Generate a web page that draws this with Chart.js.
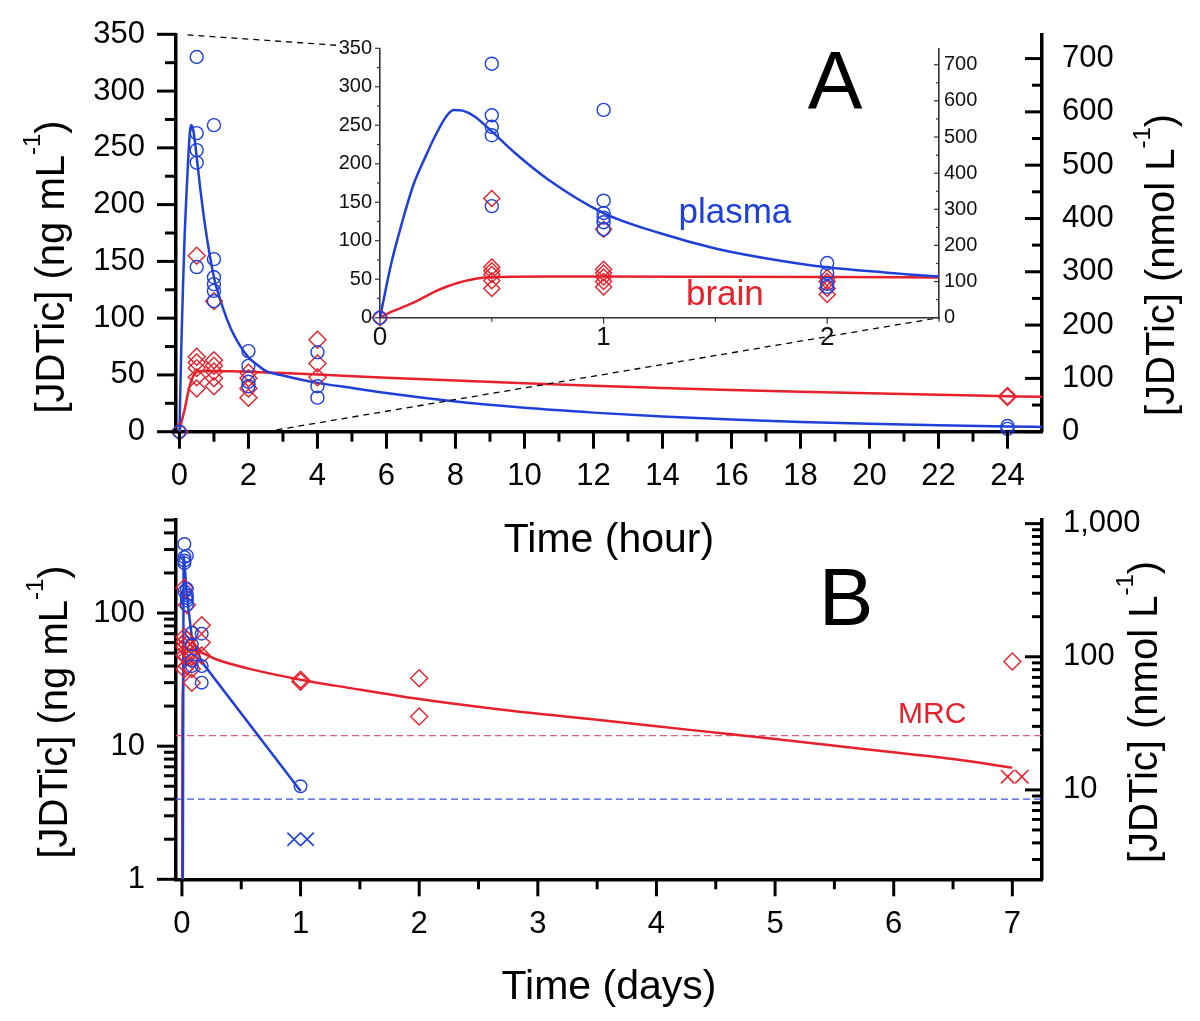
<!DOCTYPE html>
<html>
<head>
<meta charset="utf-8">
<script src="https://cdn.jsdelivr.net/npm/chart.js@4.4.1/dist/chart.umd.min.js"></script>
<style>
html,body{margin:0;padding:0;background:#fff;}
#wrap{position:relative;width:1200px;height:1021px;overflow:hidden;background:#fff;}
#wrap canvas{position:absolute;}
</style>
</head>
<body>
<div id="wrap">
<canvas id="cA" width="1200" height="580" style="left:0;top:0;width:1200px;height:580px"></canvas>
<canvas id="cB" width="1200" height="541" style="left:0;top:480px;width:1200px;height:541px"></canvas>
<canvas id="cI" width="680" height="330" style="left:330px;top:30px;width:680px;height:330px"></canvas>
</div>
<script>
// ---------------- DATA ----------------
const NMOL_PER_NG = 2.13;          // ng/mL -> nmol/L conversion used for the right axes
const MRC = 12;                    // ng/mL, red dashed line (panel B)
const LLOQ = 4;                    // ng/mL, blue dashed line (panel B)

// Panel A (hours) observations
const sampleHours = [0, 0.5, 1, 2, 4, 24];
const plasmaObs = [[0], [330, 263, 248, 237, 145], [270, 152, 136, 130, 124, 115], [71, 58, 44, 40], [70, 40, 30], [5, 2.5]];
const brainObs  = [[0], [155, 66, 61, 56, 48, 38], [115, 63, 58, 53, 47, 40], [52, 47, 38, 30], [81, 60, 48], [31.5, 30.5]];

// Panel A fitted curves (hours)
const fitHoursPlasma = [0, 0.05, 0.1, 0.15, 0.2, 0.25, 0.3, 0.33, 0.37, 0.42, 0.5, 0.6, 0.75, 1, 1.25, 1.5, 1.75, 2, 2.25, 2.5, 3, 3.5, 4, 5, 6, 8, 10, 12, 14, 16, 18, 20, 22, 24, 25];
const fitPlasma      = [0, 70, 125, 173, 207, 238, 263, 270, 269, 262, 242, 215, 180, 136, 110, 90, 76, 65.5, 59, 53.5, 49.5, 46, 43, 38.5, 34, 26.5, 21, 16.8, 13.4, 10.7, 8.6, 6.9, 5.6, 4.6, 4.2];
const fitHoursBrain  = [0, 0.05, 0.1, 0.15, 0.2, 0.25, 0.3, 0.35, 0.4, 0.45, 0.5, 0.6, 0.75, 1, 1.5, 2, 2.5, 3, 4, 6, 8, 10, 12, 14, 16, 18, 20, 22, 24, 25];
const fitBrain       = [0, 7.5, 13.5, 19.5, 27, 34.5, 40.5, 45.5, 49, 51.5, 52.5, 53.2, 53.5, 53.5, 53.2, 52.8, 52.2, 51.6, 50.3, 47.6, 45.1, 42.7, 40.5, 38.5, 36.8, 35.2, 33.8, 32.5, 31.3, 30.7];

// Panel B (days) observations
const sampleDays = [0.0208, 0.0417, 0.0833, 0.1667, 1, 2, 7];
const plasmaObsB = [[330, 263, 248, 237, 145], [270, 152, 136, 130, 124, 115], [71, 58, 44, 40], [70, 40, 30], [5], [], []];
const brainObsB  = [[155, 66, 61, 56, 48, 38], [115, 63, 58, 53, 47, 40], [52, 47, 38, 30], [81, 60, 48], [31.5, 30.5], [32.4, 16.7], [43.3]];
const plasmaBlqDays = [0.945, 1.055];
const plasmaBlqVals = [2, 2];
const brainBlqDays  = [6.96, 7.08];
const brainBlqVals  = [5.9, 5.9];

// Panel B fitted curves (days); first value ~0 (below the log axis)
const fitDaysPlasma = [0, 0.0139, 0.0208, 0.0417, 0.0833, 0.1667, 1];
const fitPlasmaB    = [0.001, 270, 242, 136, 65.5, 43, 4.6];
const fitDaysBrain  = [0, 0.004, 0.008, 0.0125, 0.0167, 0.0208, 0.042, 0.083, 0.167, 0.3, 0.58, 1, 1.42, 2, 2.7, 3.5, 4.3, 5, 5.8, 6.5, 7];
const fitBrainB     = [0.001, 13.5, 27, 40.5, 49, 52.5, 53.5, 52.8, 50.3, 44.6, 37.9, 31.6, 27.3, 22.6, 18.8, 15.8, 13.2, 11.3, 9.4, 8.0, 6.9];

// Tick labels
const A_xTicks = [0, 2, 4, 6, 8, 10, 12, 14, 16, 18, 20, 22, 24];
const A_yTicks = [0, 50, 100, 150, 200, 250, 300, 350];
const A_y2Ticks = [0, 100, 200, 300, 400, 500, 600, 700];
const I_xTicks = [0, 1, 2];
const I_yTicks = [0, 50, 100, 150, 200, 250, 300, 350];
const I_y2Ticks = [0, 100, 200, 300, 400, 500, 600, 700];
const B_xTicks = [0, 1, 2, 3, 4, 5, 6, 7];
const B_yTicks = [1, 10, 100];
const B_y2Ticks = [10, 100, 1000];

// ---------------- HELPERS ----------------
const BLUE = '#1f40d8';
const RED = '#e6212b';
const FONT = '"Liberation Sans", Arial, Helvetica, sans-serif';
Chart.defaults.font.family = FONT;
Chart.defaults.color = '#000';

function obsPoints(times, groups){ const p=[]; times.forEach((t,i)=>groups[i].forEach(v=>p.push({x:t,y:v}))); return p; }
function zipPts(ts, vs){ return ts.map((t,i)=>({x:t,y:vs[i]})); }
function range(a,b,s){ const r=[]; for(let v=a; v<=b+1e-9; v+=s) r.push(+v.toFixed(6)); return r; }
function logMinors(lo, hi){ const r=[]; for(let d=-2; d<=4; d++){ for(let m=2;m<=9;m++){ const v=m*Math.pow(10,d); if(v>=lo-1e-9 && v<=hi+1e-9) r.push(v);} } return r; }

function tickPlugin(id, specs){
  return { id, afterDraw(chart){
    const ctx=chart.ctx, ca=chart.chartArea;
    ctx.save();
    specs.forEach(s=>{
      const sc=chart.scales[s.axis];
      ctx.strokeStyle=s.color||'#000'; ctx.lineWidth=s.width; ctx.lineCap='butt';
      const draw=(v,len)=>{
        const p=sc.getPixelForValue(v);
        ctx.beginPath();
        if(s.side==='bottom'){
          const y0=ca.bottom; const y1 = s.dir==='out'? y0+len : y0-len;
          ctx.moveTo(p,y0); ctx.lineTo(p,y1);
        } else {
          const x0 = s.side==='left'? ca.left : ca.right;
          const sign = ((s.side==='left') === (s.dir==='out')) ? -1 : 1;
          ctx.moveTo(x0,p); ctx.lineTo(x0+sign*len,p);
        }
        ctx.stroke();
      };
      s.major.forEach(v=>draw(v,s.majorLen));
      s.minor.forEach(v=>draw(v,s.minorLen));
    });
    ctx.restore();
  }};
}

function drawRotTitle(ctx, parts, xBase, yCenter, size){
  ctx.save(); ctx.fillStyle='#000';
  let total=0;
  parts.forEach(p=>{ ctx.font=(p.sup? size*0.6 : size)+'px '+FONT; p.w=ctx.measureText(p.t).width; total+=p.w; });
  ctx.translate(xBase, yCenter); ctx.rotate(-Math.PI/2);
  ctx.textBaseline='alphabetic'; ctx.textAlign='left';
  let x=-total/2;
  parts.forEach(p=>{ ctx.font=(p.sup? size*0.6 : size)+'px '+FONT; ctx.fillText(p.t, x, p.sup? -size*0.6 : 0); x+=p.w; });
  ctx.restore();
}
function textPlugin(id, items, titles){
  return { id, afterDraw(chart){
    const ctx=chart.ctx;
    items.forEach(it=>{ ctx.save(); ctx.font=it.size+'px '+FONT; ctx.fillStyle=it.color; ctx.textAlign=it.align||'left'; ctx.textBaseline='alphabetic'; ctx.fillText(it.text,it.x,it.y); ctx.restore(); });
    (titles||[]).forEach(t=>drawRotTitle(ctx, t.parts.map(p=>Object.assign({},p)), t.x, t.y, t.size));
  }};
}
const ngTitle = [{t:'[JDTic] (ng mL'},{t:'-1',sup:true},{t:')'}];
const nmolTitle = [{t:'[JDTic] (nmol L'},{t:'-1',sup:true},{t:')'}];

function axisBase(extra){
  return Object.assign({
    grid:{display:true, drawOnChartArea:false, drawTicks:false},
    border:{display:true, width:3.5, color:'#000'},
  }, extra);
}
function setTicks(arr){ return s=>{ s.ticks = arr.map(v=>({value:v})); }; }
function fixW(w){ return s=>{ s.width=w; s.paddingTop=0; s.paddingBottom=0; s.paddingLeft=0; s.paddingRight=0; }; }
function fixH(h){ return s=>{ s.height=h; s.paddingTop=0; s.paddingBottom=0; s.paddingLeft=0; s.paddingRight=0; }; }

const markerCircle = {pointStyle:'circle', borderColor:BLUE, backgroundColor:'rgba(0,0,0,0)', borderWidth:1.4, clip:false};
const markerDiamond = {pointStyle:'rectRot', borderColor:RED, backgroundColor:'rgba(0,0,0,0)', borderWidth:1.4, clip:false};

// ---------------- INSET ----------------
const insetOff = {x:330, y:30};
const inset = new Chart(document.getElementById('cI'), {
  type:'scatter',
  data:{datasets:[
    Object.assign({data: obsPoints(sampleHours, plasmaObs).filter(p=>p.x<=2.5), pointRadius:6.5}, markerCircle),
    Object.assign({data: obsPoints(sampleHours, brainObs).filter(p=>p.x<=2.5), pointRadius:8}, markerDiamond),
    {data: zipPts(fitHoursPlasma, fitPlasma), showLine:true, pointRadius:0, borderColor:BLUE, borderWidth:2.5, cubicInterpolationMode:'monotone'},
    {data: zipPts(fitHoursBrain, fitBrain), showLine:true, pointRadius:0, borderColor:RED, borderWidth:2.5, cubicInterpolationMode:'monotone'}
  ]},
  options:{
    responsive:false, animation:false, events:[],
    layout:{padding:{top:18.3,left:0,right:0,bottom:0}},
    plugins:{legend:{display:false}, tooltip:{enabled:false}},
    scales:{
      x: axisBase({type:'linear', min:0, max:2.5, border:{width:1.6,color:'#333'},
        afterFit:fixH(330-287.7), afterBuildTicks:setTicks(I_xTicks),
        ticks:{font:{size:26}, padding:4.5, autoSkip:false, maxRotation:0, color:'#111', callback:v=>String(v)}}),
      y: axisBase({type:'linear', position:'left', min:0, max:350, border:{width:1.6,color:'#333'},
        afterFit:fixW(50), afterBuildTicks:setTicks(I_yTicks),
        ticks:{font:{size:20}, padding:8, autoSkip:false, color:'#111', callback:v=>String(v)}}),
      y2: axisBase({type:'linear', position:'right', min:0, max:350*NMOL_PER_NG, border:{width:1.6,color:'#333'},
        afterFit:fixW(680-609), afterBuildTicks:setTicks(I_y2Ticks),
        ticks:{font:{size:20}, padding:5, autoSkip:false, color:'#111', callback:v=>String(v)}})
    }
  },
  plugins:[
    tickPlugin('ticksI', [
      {axis:'x', side:'bottom', dir:'out', major:I_xTicks, minor:[0.5,1.5,2.5], majorLen:6, minorLen:4, width:1.2, color:'#333'},
      {axis:'y', side:'left', dir:'out', major:I_yTicks, minor:range(25,325,50), majorLen:5, minorLen:3, width:1.2, color:'#333'},
      {axis:'y2', side:'right', dir:'in', major:I_y2Ticks, minor:range(50,700,100), majorLen:5, minorLen:3, width:1.2, color:'#333'}
    ]),
    textPlugin('textI', [
      {text:'plasma', x:678.5-insetOff.x, y:223-insetOff.y, size:35, color:BLUE},
      {text:'brain', x:686-insetOff.x, y:305-insetOff.y, size:35, color:RED}
    ])
  ]
});

// ---------------- PANEL A ----------------
const connectorPlugin = { id:'conn', afterDraw(chart){
  const ctx=chart.ctx, xs=chart.scales.x, ys=chart.scales.y, ix=inset.scales.x, iy=inset.scales.y;
  const m1={x:xs.getPixelForValue(0), y:ys.getPixelForValue(350)};
  const i1={x:ix.getPixelForValue(0)+insetOff.x, y:iy.getPixelForValue(350)+insetOff.y};
  const m2={x:xs.getPixelForValue(2.5), y:ys.getPixelForValue(0)};
  const i2={x:ix.getPixelForValue(2.5)+insetOff.x, y:iy.getPixelForValue(0)+insetOff.y};
  const at=(a,b,x)=>({x, y:a.y+(b.y-a.y)*(x-a.x)/(b.x-a.x)});
  ctx.save(); ctx.strokeStyle='#000'; ctx.lineWidth=1.3; ctx.setLineDash([6,5]);
  const u0=at(m1,i1,m1.x+8), u1=at(m1,i1,insetOff.x+6);
  ctx.beginPath(); ctx.moveTo(u0.x,u0.y); ctx.lineTo(u1.x,u1.y); ctx.stroke();
  ctx.beginPath(); ctx.moveTo(m2.x,m2.y); ctx.lineTo(i2.x,i2.y); ctx.stroke();
  ctx.restore();
}};

const chartA = new Chart(document.getElementById('cA'), {
  type:'scatter',
  data:{datasets:[
    Object.assign({data: obsPoints(sampleHours, plasmaObs), pointRadius:6.5}, markerCircle),
    Object.assign({data: obsPoints(sampleHours, brainObs), pointRadius:8.5}, markerDiamond),
    {data: zipPts(fitHoursPlasma, fitPlasma), showLine:true, pointRadius:0, borderColor:BLUE, borderWidth:2.5, cubicInterpolationMode:'monotone'},
    {data: zipPts(fitHoursBrain, fitBrain), showLine:true, pointRadius:0, borderColor:RED, borderWidth:2.5, cubicInterpolationMode:'monotone'}
  ]},
  options:{
    responsive:false, animation:false, events:[],
    layout:{padding:{top:34.3,left:0,right:0,bottom:0}},
    plugins:{legend:{display:false}, tooltip:{enabled:false}},
    scales:{
      x: axisBase({type:'linear', min:-0.1, max:25,
        afterFit:fixH(580-431.7), afterBuildTicks:setTicks(A_xTicks),
        ticks:{font:{size:31}, padding:26.4, autoSkip:false, maxRotation:0, callback:v=>String(v)},
        title:{display:true, text:'Time (hour)', font:{size:41}, color:'#000', padding:{top:0,bottom:14.4}}}),
      y: axisBase({type:'linear', position:'left', min:0, max:350,
        afterFit:fixW(176), afterBuildTicks:setTicks(A_yTicks),
        ticks:{font:{size:31}, padding:31, autoSkip:false, callback:v=>String(v)}}),
      y2: axisBase({type:'linear', position:'right', min:0, max:350*NMOL_PER_NG,
        afterFit:fixW(1200-1042), afterBuildTicks:setTicks(A_y2Ticks),
        ticks:{font:{size:31}, padding:20, autoSkip:false, callback:v=>String(v)}})
    }
  },
  plugins:[
    connectorPlugin,
    tickPlugin('ticksA', [
      {axis:'x', side:'bottom', dir:'out', major:A_xTicks, minor:range(1,23,2), majorLen:17, minorLen:10, width:3},
      {axis:'y', side:'left', dir:'out', major:A_yTicks, minor:range(25,325,50), majorLen:19, minorLen:11, width:3},
      {axis:'y2', side:'right', dir:'in', major:A_y2Ticks, minor:range(50,650,100), majorLen:17, minorLen:10, width:3}
    ]),
    textPlugin('textA', [
      {text:'A', x:835, y:108, size:82, color:'#000', align:'center'}
    ], [
      {parts:ngTitle, x:64, y:267, size:40},
      {parts:nmolTitle, x:1174, y:265, size:40}
    ])
  ]
});

// ---------------- PANEL B ----------------
const B_top = 480;
const xMinB = -0.05, xMaxB = 7.25;
const chartB = new Chart(document.getElementById('cB'), {
  type:'scatter',
  data:{datasets:[
    Object.assign({data: obsPoints(sampleDays, plasmaObsB), pointRadius:6.3}, markerCircle),
    Object.assign({data: obsPoints(sampleDays, brainObsB), pointRadius:8.5}, markerDiamond),
    {data: zipPts(plasmaBlqDays, plasmaBlqVals), pointStyle:'crossRot', pointRadius:9.4, borderColor:BLUE, borderWidth:1.6, clip:false},
    {data: zipPts(brainBlqDays, brainBlqVals), pointStyle:'crossRot', pointRadius:9.4, borderColor:RED, borderWidth:1.6, clip:false},
    {data: zipPts(fitDaysPlasma, fitPlasmaB), showLine:true, pointRadius:0, borderColor:BLUE, borderWidth:2.5},
    {data: zipPts(fitDaysBrain, fitBrainB), showLine:true, pointRadius:0, borderColor:RED, borderWidth:2.5, cubicInterpolationMode:'monotone'},
    {data: [{x:xMinB,y:MRC},{x:xMaxB,y:MRC}], showLine:true, pointRadius:0, borderColor:'#e0607a', borderWidth:1.4, borderDash:[7,4]},
    {data: [{x:xMinB,y:LLOQ},{x:xMaxB,y:LLOQ}], showLine:true, pointRadius:0, borderColor:'#3a55dc', borderWidth:1.4, borderDash:[7,4]}
  ]},
  options:{
    responsive:false, animation:false, events:[],
    layout:{padding:{top:520-B_top,left:0,right:0,bottom:0}},
    plugins:{legend:{display:false}, tooltip:{enabled:false}},
    scales:{
      x: axisBase({type:'linear', min:xMinB, max:xMaxB,
        afterFit:fixH(541-(879.3-B_top)), afterBuildTicks:setTicks(B_xTicks),
        ticks:{font:{size:31}, padding:26.8, autoSkip:false, maxRotation:0, callback:v=>String(v)},
        title:{display:true, text:'Time (days)', font:{size:41}, color:'#000', padding:{top:0,bottom:9}}}),
      y: axisBase({type:'logarithmic', position:'left', min:1, max:500,
        afterFit:fixW(176), afterBuildTicks:setTicks(B_yTicks),
        ticks:{font:{size:31}, padding:31, autoSkip:false, callback:v=>String(v)}}),
      y2: axisBase({type:'logarithmic', position:'right', min:1*NMOL_PER_NG, max:500*NMOL_PER_NG,
        afterFit:fixW(1200-1042), afterBuildTicks:setTicks(B_y2Ticks),
        ticks:{font:{size:31}, padding:21, autoSkip:false, callback:v=>Number(v).toLocaleString('en-US')}})
    }
  },
  plugins:[
    tickPlugin('ticksB', [
      {axis:'x', side:'bottom', dir:'out', major:B_xTicks, minor:range(0.5,6.5,1), majorLen:17, minorLen:10, width:3},
      {axis:'y', side:'left', dir:'out', major:B_yTicks, minor:logMinors(1,500), majorLen:19, minorLen:12, width:3},
      {axis:'y2', side:'right', dir:'in', major:B_y2Ticks, minor:logMinors(1*NMOL_PER_NG,500*NMOL_PER_NG), majorLen:17, minorLen:10, width:3}
    ]),
    textPlugin('textB', [
      {text:'B', x:846, y:625-B_top, size:82, color:'#000', align:'center'},
      {text:'MRC', x:898, y:723-B_top, size:30, color:RED}
    ], [
      {parts:ngTitle, x:66.5, y:712-B_top, size:40},
      {parts:nmolTitle, x:1157, y:712-B_top, size:40}
    ])
  ]
});
</script>
</body>
</html>
